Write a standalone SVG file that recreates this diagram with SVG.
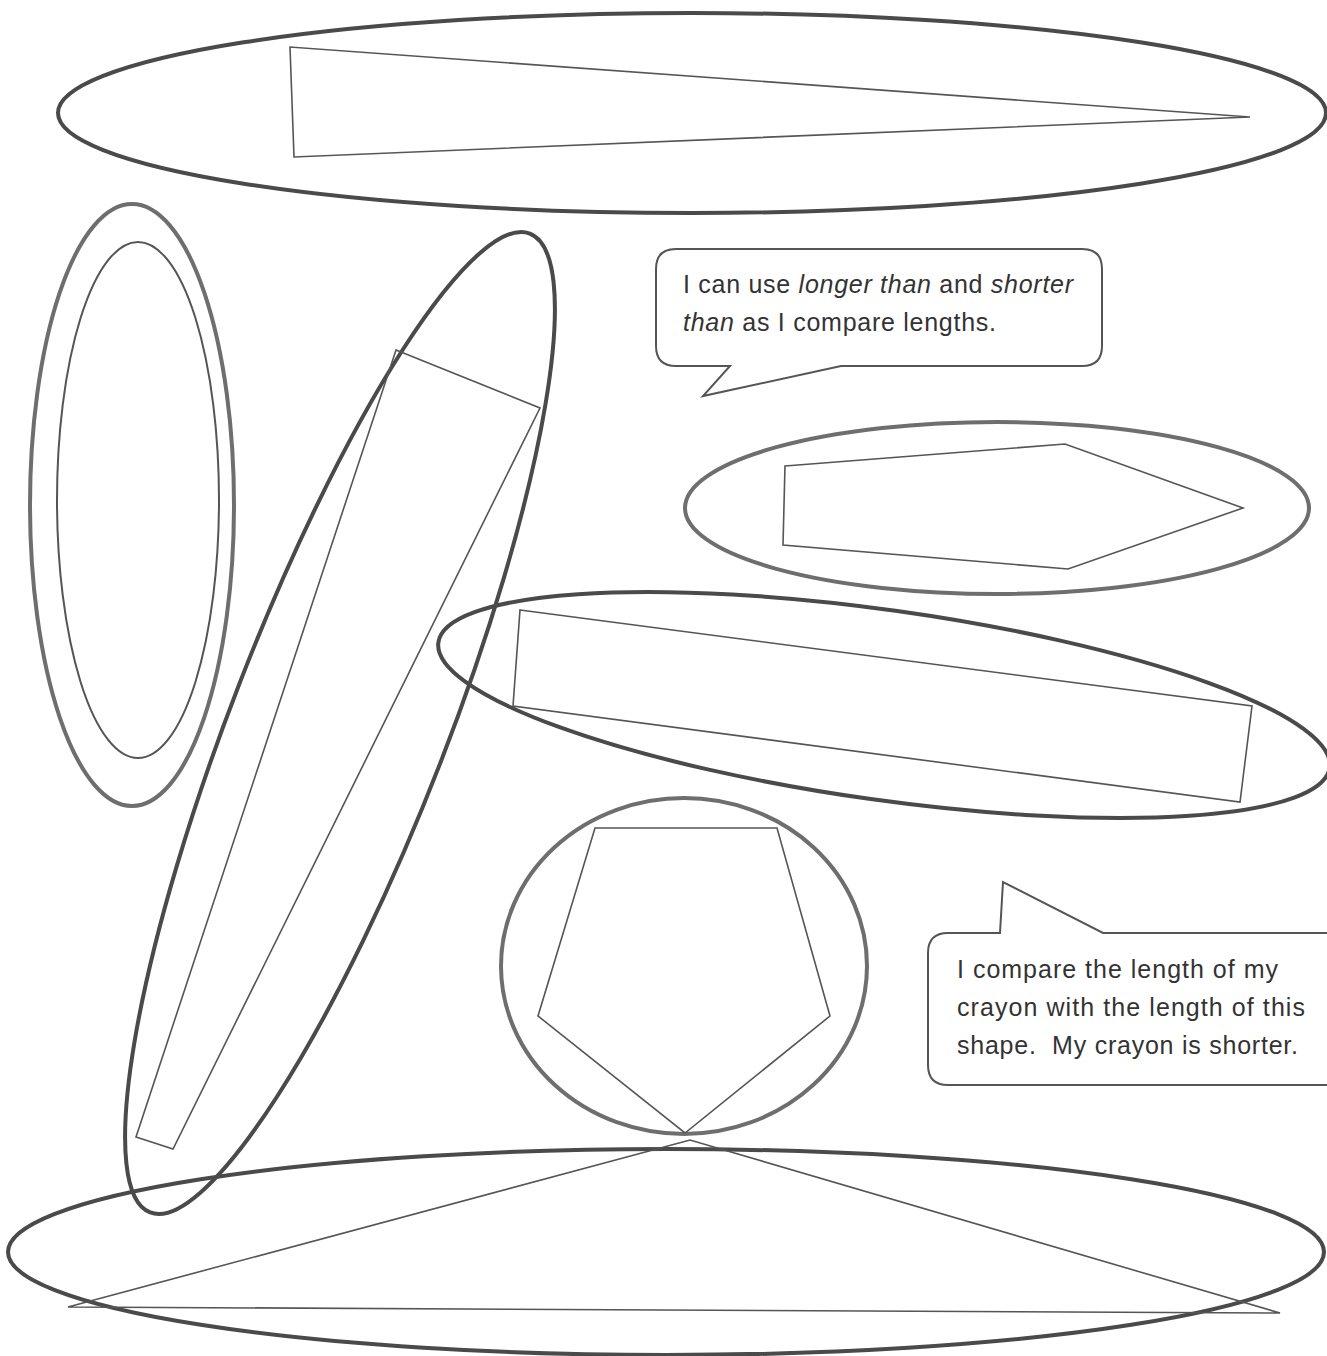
<svg xmlns="http://www.w3.org/2000/svg" width="1327" height="1356" viewBox="0 0 1327 1356">
<style>
.oval{fill:none;stroke:#4a4a4a;stroke-width:4}
.light{fill:none;stroke:#6e6e6e;stroke-width:4}
.thin{fill:none;stroke:#555;stroke-width:1.6}
.bubble{fill:#fff;stroke:#555;stroke-width:2}
.t{font-family:"Liberation Sans",Arial,sans-serif;font-size:25px;fill:#333}
</style>
<rect width="1327" height="1356" fill="#fff"/>
<g id="top-oval">
<ellipse class="oval" cx="692" cy="113" rx="634" ry="100"/>
<polygon class="thin" points="290,47 294,157 1250,117"/>
</g>
<g id="left-oval">
<ellipse class="light" cx="132" cy="505" rx="102" ry="301"/>
<ellipse class="thin" cx="138" cy="500" rx="81" ry="258" style="stroke-width:2"/>
</g>
<g id="tilted-oval">
<ellipse class="oval" cx="340" cy="723" rx="525" ry="108" transform="rotate(-68.8 340 723)"/>
<polygon class="thin" points="396,350 540,408 173,1149 136,1137"/>
</g>
<g id="hexagon-oval">
<ellipse class="light" cx="997" cy="508" rx="312" ry="86"/>
<polygon class="thin" points="785,466 1065,444 1243,508 1068,569 783,545"/>
</g>
<g id="rect-oval">
<ellipse class="oval" cx="884" cy="705" rx="450" ry="95" transform="rotate(8 884 705)"/>
<polygon class="thin" points="520,610 1252,706 1240,802 513,706"/>
</g>
<g id="pentagon-circle">
<ellipse class="light" cx="684" cy="966" rx="183" ry="168"/>
<polygon class="thin" points="595,828 777,828 830,1016 685,1133 538,1016"/>
</g>
<g id="bottom-oval">
<ellipse class="oval" cx="666" cy="1252" rx="658" ry="103"/>
<polygon class="thin" points="68,1307 690,1140 1280,1313"/>
</g>
<g id="bubble-1">
<path class="bubble" d="M676,249 H1082 Q1102,249 1102,269 V346 Q1102,366 1082,366 H841 L703,396 L730,366 H676 Q656,366 656,346 V269 Q656,249 676,249 Z"/>
<text class="t" x="683" y="293" textLength="390" lengthAdjust="spacing">I can use <tspan font-style="italic">longer than</tspan> and <tspan font-style="italic">shorter</tspan></text>
<text class="t" x="683" y="331" textLength="313" lengthAdjust="spacing"><tspan font-style="italic">than</tspan> as I compare lengths.</text>
</g>
<g id="bubble-2">
<path class="bubble" d="M1000,933 L1003,882 L1103,933 H1340 V1085 H948 Q928,1085 928,1065 V953 Q928,933 948,933 Z"/>
<text class="t" x="957" y="978" textLength="321" lengthAdjust="spacing">I compare the length of my</text>
<text class="t" x="957" y="1016" textLength="348" lengthAdjust="spacing">crayon with the length of this</text>
<text class="t" x="957" y="1054" textLength="341" lengthAdjust="spacing" xml:space="preserve">shape.  My crayon is shorter.</text>
</g>
<g id="connectors"/>
</svg>
